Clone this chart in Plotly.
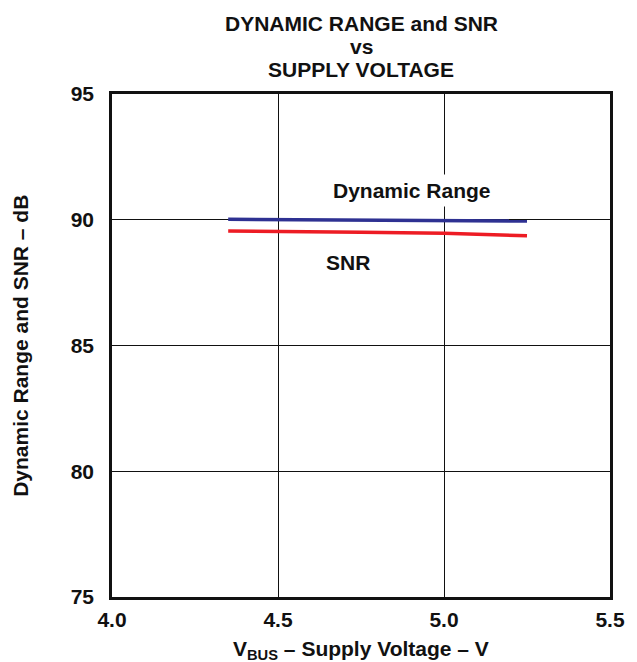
import plotly.graph_objects as go

# Supply voltage sweep (V) and measured performance (dB)
vbus = [4.35, 4.5, 4.75, 5.0, 5.25]
dynamic_range = [90.02, 90.01, 89.98, 89.95, 89.95]
snr = [89.55, 89.52, 89.50, 89.46, 89.36]

x_ticks = [4.0, 4.5, 5.0, 5.5]
y_ticks = [75, 80, 85, 90, 95]

title_lines = ["DYNAMIC RANGE and SNR", "vs", "SUPPLY VOLTAGE"]

FONT = "Liberation Sans, Arial, sans-serif"
INK = "#111111"
SIZE = 21

fig = go.Figure()
fig.add_trace(go.Scatter(x=vbus, y=dynamic_range, mode="lines",
                         line=dict(color="#2e3192", width=3.5),
                         name="Dynamic Range", showlegend=False))
fig.add_trace(go.Scatter(x=vbus, y=snr, mode="lines",
                         line=dict(color="#ed1c24", width=3.5),
                         name="SNR", showlegend=False))

# In-plot curve labels (white box hides the grid line behind the text)
fig.add_annotation(x=4.904, y=91.18, text="<b>Dynamic Range</b>", showarrow=False,
                   bgcolor="white", borderpad=4,
                   font=dict(family=FONT, size=SIZE, color=INK))
fig.add_annotation(x=4.71, y=88.32, text="<b>SNR</b>", showarrow=False,
                   bgcolor="white", borderpad=2,
                   font=dict(family=FONT, size=SIZE, color=INK))

# Three-line heading, stacked tightly above the plot
for line, ypos in zip(title_lines, [1.140, 1.095, 1.049]):
    fig.add_annotation(xref="paper", yref="paper", x=0.5, y=ypos,
                       text=f"<b>{line}</b>", showarrow=False,
                       xanchor="center", yanchor="middle",
                       font=dict(family=FONT, size=SIZE, color=INK))

# Axis titles
fig.add_annotation(xref="paper", yref="paper", x=0.5, y=-0.106,
                   text="<b>V<sub>BUS</sub> – Supply Voltage – V</b>", showarrow=False,
                   xanchor="center", yanchor="middle",
                   font=dict(family=FONT, size=SIZE, color=INK))
fig.add_annotation(xref="paper", yref="paper", x=-0.184, y=0.5, textangle=-90,
                   text="<b>Dynamic Range and SNR – dB</b>", showarrow=False,
                   xanchor="center", yanchor="middle",
                   font=dict(family=FONT, size=SIZE, color=INK))

axis_common = dict(showline=True, linecolor=INK, linewidth=2.5, mirror=True,
                   showgrid=True, gridcolor=INK, gridwidth=1,
                   ticks="", zeroline=False,
                   tickfont=dict(family=FONT, size=SIZE, color=INK))

fig.update_xaxes(range=[4.0, 5.5], tickvals=x_ticks,
                 ticktext=[f"<b>{v:.1f}</b>" for v in x_ticks],
                 ticklabelstandoff=2, **axis_common)
fig.update_yaxes(range=[75, 95], tickvals=y_ticks,
                 ticktext=[f"<b>{v}</b>" for v in y_ticks],
                 ticklabelstandoff=11, **axis_common)

fig.update_layout(
    width=637, height=662,
    margin=dict(l=112, r=19, t=94, b=65),
    paper_bgcolor="white", plot_bgcolor="white",
)

fig.write_html("out.html")
